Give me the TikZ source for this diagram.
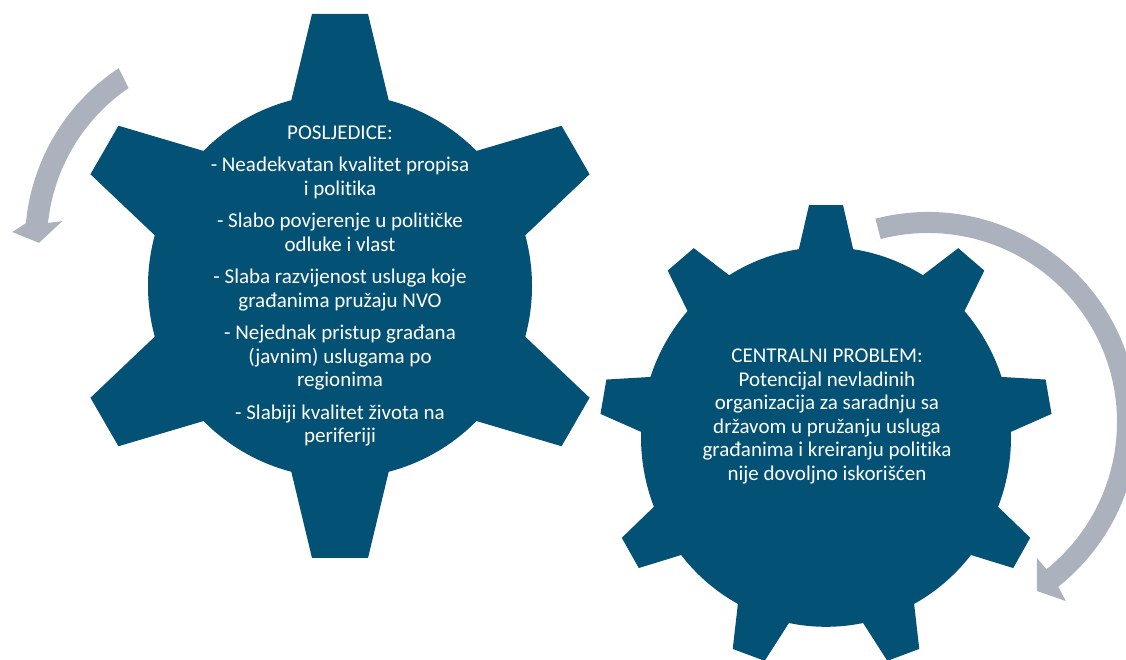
\documentclass[tikz,border=0pt]{standalone}
\usepackage{fontspec}
\setmainfont{Carlito}[Ligatures={NoCommon}]
\definecolor{gearblue}{RGB}{3,81,117}
\definecolor{arrowgrey}{RGB}{171,178,189}

\begin{document}
\begin{tikzpicture}[x=1pt, y=1pt,
  gtext/.style={text=white, align=center, font=\fontsize{21}{23.5}\selectfont}]
  \useasboundingbox (0,0) rectangle (1126,660);
  \clip (0,0) rectangle (1126,660);

  % left gear, six teeth
  \begin{scope}[shift={(340,374)}]
    \fill[gearblue] (0,0) circle[radius=192];
    \foreach \a in {90,150,...,390}
      \fill[gearblue, rotate=\a] (170,-52.5) -- (272,-28) -- (272,28) -- (170,52.5) -- cycle;
  \end{scope}

  % right gear, nine teeth
  \begin{scope}[shift={(826,223)}, yscale=1.026]
    \fill[gearblue] (0,0) circle[radius=185];
    \foreach \a in {90,130,...,410}
      \fill[gearblue, rotate=\a] (160,-32.6) -- (226,-17) -- (226,17) -- (160,32.6) -- cycle;
  \end{scope}

  % grey turning arrows
  \begin{scope}[shift={(234,417.5)}]
    \fill[arrowgrey] (123.5:209) arc[start angle=123.5, end angle=174.7, radius=209]
      -- (177.3:222) -- (180.1:195) -- (172.9:173) -- (174:187)
      arc[start angle=174, end angle=124.3, radius=187] -- cycle;
  \end{scope}
  \begin{scope}[shift={(928,238)}]
    \fill[arrowgrey] (104.5:210) arc[start angle=104.5, end angle=-51.7, radius=210]
      -- (-52.4:226) -- (-57.2:201) -- (-51.3:174) -- (-51.2:189)
      arc[start angle=-51.2, end angle=104.5, radius=189] -- cycle;
  \end{scope}

  \node[gtext] (posljedice) at (340,374) {POSLJEDICE:\\[9pt]
    - Neadekvatan kvalitet propisa\\i politika\\[9pt]
    - Slabo povjerenje u političke\\odluke i vlast\\[9pt]
    - Slaba razvijenost usluga koje\\građanima pružaju NVO\\[9pt]
    - Nejednak pristup građana\\(javnim) uslugama po\\regionima\\[9pt]
    - Slabiji kvalitet života na\\periferiji};
  \node[gtext] (problem) at (827,243.5) {CENTRALNI PROBLEM:\\Potencijal nevladinih\\organizacija za saradnju sa\\državom u pružanju usluga\\građanima i kreiranju politika\\nije dovoljno iskorišćen};
\end{tikzpicture}
\end{document}
